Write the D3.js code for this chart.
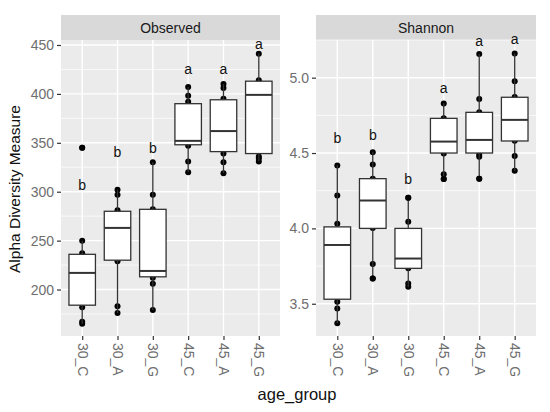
<!DOCTYPE html>
<html><head><meta charset="utf-8">
<script src="https://cdn.jsdelivr.net/npm/d3@7"></script>
<style>body{margin:0;background:#fff}svg{display:block}text{font-family:Arial,"Liberation Sans",sans-serif}</style>
</head><body><svg id="c" width="550" height="412"></svg>
<script>
const categories = ["30_C","30_A","30_G","45_C","45_A","45_G"];
// Observed: box stats [whiskerLow, q1, median, q3, whiskerHigh]
const observedBox = [
  [165,184,217,236,250],
  [176,230,263,280,302],
  [179,213,219,282,330],
  [320,348,352,390,407],
  [319,341,362,394,410],
  [331,339,399,413,441]
];
const observedPoints = [
  [345,250,237,182,167,165],
  [302,297,281,229,183,176],
  [330,297,282,212,206,179],
  [407,398,392,347,331,320],
  [410,406,395,339,330,319],
  [441,414,336,334,331]
];
const observedLetters = ["b","b","b","a","a","a"];
const observedLetterY = [307,341,345,425,425,451];
const observedTicks = [200,250,300,350,400,450];
const observedMinor = [175,225,275,325,375,425];
const observedDomain = [152.5,455.1];

const shannonBox = [
  [3.37,3.53,3.89,4.01,4.42],
  [3.67,4.00,4.185,4.33,4.51],
  [3.61,3.735,3.80,4.00,4.20],
  [4.33,4.50,4.576,4.73,4.83],
  [4.33,4.50,4.587,4.77,5.157],
  [4.38,4.58,4.72,4.87,5.161]
];
const shannonPoints = [
  [4.417,4.219,4.031,3.513,3.468,3.371],
  [4.506,4.424,4.33,4.003,3.764,3.667],
  [4.203,4.044,3.735,3.634,3.612],
  [4.828,4.73,4.497,4.36,4.327],
  [5.157,4.859,4.77,4.49,4.475,4.329],
  [5.161,4.976,4.872,4.581,4.481,4.382]
];
const shannonLetters = ["b","b","b","a","a","a"];
const shannonLetterY = [4.60,4.62,4.327,4.934,5.245,5.254];
const shannonTicks = [3.5,4.0,4.5,5.0];
const shannonMinor = [3.75,4.25,4.75,5.25];
const shannonDomain = [3.286,5.25];

const svg = d3.select("#c");
const pTop = 40, pBottom = 336;

function panel(x0, x1, title, box, pts, letters, letterY, ticks, minor, domain, fmt){
  const g = svg.append("g");
  const x = d3.scalePoint().domain(categories).range([x0, x1]).padding(0.6);
  const y = d3.scaleLinear().domain(domain).range([pBottom, pTop]);
  const bw = x.step()*0.75;
  g.append("rect").attr("x",x0).attr("y",pTop).attr("width",x1-x0).attr("height",pBottom-pTop).attr("fill","#EBEBEB");
  // strip
  g.append("rect").attr("x",x0).attr("y",15).attr("width",x1-x0).attr("height",pTop-15).attr("fill","#D9D9D9");
  g.append("text").attr("x",(x0+x1)/2).attr("y",32.5).attr("text-anchor","middle").attr("font-size",14).attr("fill","#1A1A1A").text(title);
  // grid
  g.selectAll(".mn").data(minor).join("line").attr("x1",x0).attr("x2",x1).attr("y1",d=>y(d)).attr("y2",d=>y(d)).attr("stroke","#fff").attr("stroke-width",0.7);
  g.selectAll(".mj").data(ticks).join("line").attr("x1",x0).attr("x2",x1).attr("y1",d=>y(d)).attr("y2",d=>y(d)).attr("stroke","#fff").attr("stroke-width",1.4);
  g.selectAll(".vj").data(categories).join("line").attr("x1",d=>x(d)).attr("x2",d=>x(d)).attr("y1",pTop).attr("y2",pBottom).attr("stroke","#fff").attr("stroke-width",1.4);
  // y axis
  const ya = g.append("g").attr("transform",`translate(${x0},0)`).call(d3.axisLeft(y).tickValues(ticks).tickSize(4).tickPadding(3).tickFormat(fmt));
  ya.select(".domain").remove();
  ya.selectAll("line").attr("stroke","#333").attr("stroke-width",1.2);
  ya.selectAll("text").attr("font-size",14).attr("fill","#6E6E6E").attr("font-family","Arial,'Liberation Sans',sans-serif");
  // x axis
  const xa = g.append("g").attr("transform",`translate(0,${pBottom})`).call(d3.axisBottom(x).tickSize(4).tickPadding(0));
  xa.select(".domain").remove();
  xa.selectAll("line").attr("stroke","#333").attr("stroke-width",1.2);
  xa.selectAll("text").attr("font-size",14).attr("fill","#6E6E6E").attr("font-family","Arial,'Liberation Sans',sans-serif")
    .attr("text-anchor","start").attr("dy","0.35em").attr("transform","translate(0,7) rotate(90)").attr("x",0).attr("y",0);
  // points (under boxes)
  categories.forEach((c,i)=>{
    g.selectAll(null).data(pts[i]).join("circle").attr("cx",x(c)).attr("cy",d=>y(d)).attr("r",3).attr("fill","#000");
  });
  // boxes
  categories.forEach((c,i)=>{
    const [lo,q1,md,q3,hi] = box[i];
    const cx = x(c);
    g.append("line").attr("x1",cx).attr("x2",cx).attr("y1",y(hi)).attr("y2",y(q3)).attr("stroke","#333").attr("stroke-width",1.3);
    g.append("line").attr("x1",cx).attr("x2",cx).attr("y1",y(q1)).attr("y2",y(lo)).attr("stroke","#333").attr("stroke-width",1.3);
    g.append("rect").attr("x",cx-bw/2).attr("y",y(q3)).attr("width",bw).attr("height",y(q1)-y(q3)).attr("fill","#fff").attr("stroke","#333").attr("stroke-width",1.3);
    g.append("line").attr("x1",cx-bw/2).attr("x2",cx+bw/2).attr("y1",y(md)).attr("y2",y(md)).attr("stroke","#333").attr("stroke-width",2);
  });
  // outlier points drawn on top of boxes: values beyond whiskers
  categories.forEach((c,i)=>{
    const [lo,,,,hi] = box[i];
    g.selectAll(null).data(pts[i].filter(v=>v>hi||v<lo)).join("circle").attr("cx",x(c)).attr("cy",d=>y(d)).attr("r",3).attr("fill","#000");
  });
  // letters
  g.selectAll(".lt").data(letters).join("text").attr("x",(d,i)=>x(categories[i])).attr("y",(d,i)=>y(letterY[i])).attr("dy","0.35em")
    .attr("text-anchor","middle").attr("font-size",14).attr("fill","#111").text(d=>d);
}

panel(61,280,"Observed",observedBox,observedPoints,observedLetters,observedLetterY,observedTicks,observedMinor,observedDomain,d3.format("d"));
panel(316,536,"Shannon",shannonBox,shannonPoints,shannonLetters,shannonLetterY,shannonTicks,shannonMinor,shannonDomain,d3.format(".1f"));

svg.append("text").attr("transform","translate(20,189) rotate(-90)").attr("text-anchor","middle").attr("font-size",15.5).attr("fill","#111").text("Alpha Diversity Measure");
svg.append("text").attr("x",297).attr("y",400).attr("text-anchor","middle").attr("font-size",16.5).attr("fill","#111").text("age_group");
</script></body></html>
